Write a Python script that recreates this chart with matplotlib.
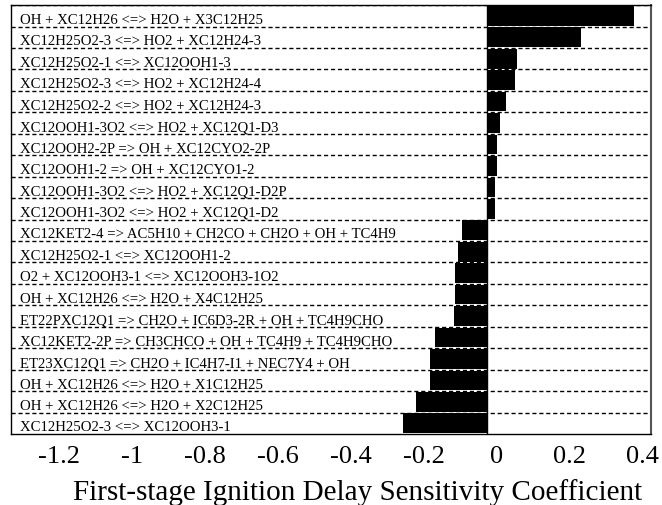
import matplotlib
matplotlib.use("Agg")
import matplotlib.pyplot as plt
from matplotlib.transforms import ScaledTranslation

reactions = [
    "OH + XC12H26 <=> H2O + X3C12H25",
    "XC12H25O2-3 <=> HO2 + XC12H24-3",
    "XC12H25O2-1 <=> XC12OOH1-3",
    "XC12H25O2-3 <=> HO2 + XC12H24-4",
    "XC12H25O2-2 <=> HO2 + XC12H24-3",
    "XC12OOH1-3O2 <=> HO2 + XC12Q1-D3",
    "XC12OOH2-2P => OH + XC12CYO2-2P",
    "XC12OOH1-2 => OH + XC12CYO1-2",
    "XC12OOH1-3O2 <=> HO2 + XC12Q1-D2P",
    "XC12OOH1-3O2 <=> HO2 + XC12Q1-D2",
    "XC12KET2-4 => AC5H10 + CH2CO + CH2O + OH + TC4H9",
    "XC12H25O2-1 <=> XC12OOH1-2",
    "O2 + XC12OOH3-1 <=> XC12OOH3-1O2",
    "OH + XC12H26 <=> H2O + X4C12H25",
    "ET22PXC12Q1 => CH2O + IC6D3-2R + OH + TC4H9CHO",
    "XC12KET2-2P => CH3CHCO + OH + TC4H9 + TC4H9CHO",
    "ET23XC12Q1 => CH2O + IC4H7-I1 + NEC7Y4 + OH",
    "OH + XC12H26 <=> H2O + X1C12H25",
    "OH + XC12H26 <=> H2O + X2C12H25",
    "XC12H25O2-3 <=> XC12OOH3-1",
]
sensitivity = [
    0.403, 0.258, 0.082, 0.076, 0.051, 0.036, 0.027, 0.027, 0.021, 0.021,
    -0.068, -0.079, -0.088, -0.089, -0.091, -0.143, -0.156, -0.158, -0.194, -0.231,
]
xticks = [-1.2, -1.0, -0.8, -0.6, -0.4, -0.2, 0.0, 0.2, 0.4]
xtick_labels = ["-1.2", "-1", "-0.8", "-0.6", "-0.4", "-0.2", "0", "0.2", "0.4"]
xlabel = "First-stage Ignition Delay Sensitivity Coefficient"

plt.rcParams["font.family"] = ["Liberation Serif", "DejaVu Serif"]

fig = plt.figure(figsize=(6.62, 5.06), dpi=100)
ax = fig.add_axes([0.0166, 0.1403, 0.9668, 0.8477])

n = len(reactions)
ypos = list(range(n))
ax.barh(ypos, sensitivity, height=0.92, color="black", zorder=3)

xmin, xmax = -1.305, 0.449
ax.set_xlim(xmin, xmax)
ax.set_ylim(n - 0.5, -0.5)

# dashed separators between reactions
ax.hlines([i - 0.5 for i in range(n)], xmin, xmax, colors="black",
          linestyles=(0, (3, 2)), linewidth=1.0, zorder=2)
ax.axvline(0, color="black", linewidth=1.0, zorder=4)

# reaction names sit inside the plot, just above each separator
name_tf = ax.get_yaxis_transform()
for i, name in enumerate(reactions):
    ax.text(0.014, i + 0.17, name, transform=name_tf, fontsize=10.6,
            ha="left", va="center", zorder=5)

ax.set_yticks([])
ax.set_xticks(xticks)
ax.set_xticklabels(xtick_labels, fontsize=19)
ax.tick_params(axis="x", length=0, pad=8)
offset = ScaledTranslation(7 / 72, 0, fig.dpi_scale_trans)
for lbl in ax.get_xticklabels():
    lbl.set_transform(lbl.get_transform() + offset)
ax.set_xlabel(xlabel, fontsize=21, labelpad=8, x=0.541)

for side in ["left", "top", "bottom"]:
    ax.spines[side].set_color("black")
    ax.spines[side].set_linewidth(1.0)
ax.spines["right"].set_color("#555555")
ax.spines["right"].set_linewidth(1.5)

fig.savefig("out.png", dpi=100)
